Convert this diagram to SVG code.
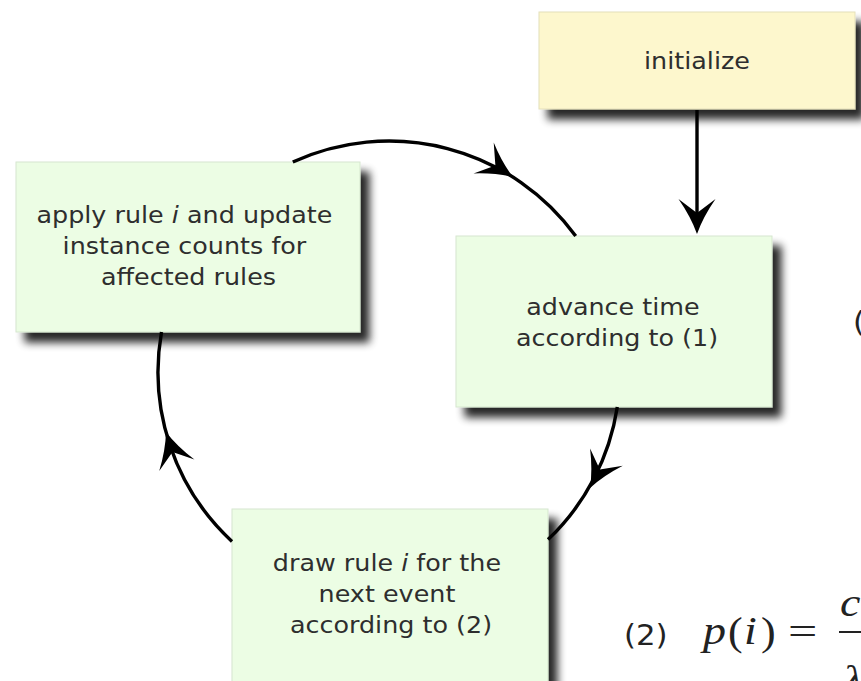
<svg xmlns="http://www.w3.org/2000/svg" xmlns:xlink="http://www.w3.org/1999/xlink" width="861" height="681" viewBox="0 0 861 681">
  <style>
    .box { stroke-width: 1; filter: url(#shadow); }
    .step { fill: #ecfde4; stroke: #d6e6cf; }
    .start { fill: #fdf7cd; stroke: #e4dfba; }
    .label { font-family: "DejaVu Sans", Verdana, sans-serif; font-size: 22.5px; fill: #2e2e2e; text-anchor: middle; }
    .edge { fill: none; stroke: #000000; stroke-width: 3.4; }
    .math { font-family: "Liberation Serif", "DejaVu Serif", serif; font-size: 40px; fill: #222222; }
    .tag { font-family: "DejaVu Sans", Verdana, sans-serif; font-size: 28px; fill: #222222; }
  </style>
  <defs>
    <filter id="shadow" x="-10%" y="-15%" width="135%" height="150%">
      <feGaussianBlur in="SourceAlpha" stdDeviation="4.5"/>
      <feOffset dx="9" dy="10"/>
      <feComponentTransfer>
        <feFuncA type="linear" slope="0.85"/>
      </feComponentTransfer>
      <feMerge>
        <feMergeNode/>
        <feMergeNode in="SourceGraphic"/>
      </feMerge>
    </filter>
    <!-- notched arrowhead, tip at the origin, pointing along +x -->
    <path id="head" d="M0,0 Q-17,-6 -35,-18.5 L-21,0 L-35,18.5 Q-17,6 0,0 Z" fill="#000000"/>
  </defs>

  <rect width="861" height="681" fill="#ffffff"/>

  <g id="node-initialize">
    <rect class="box start" x="539" y="12" width="316" height="97"/>
    <text class="label" transform="translate(697 0) scale(1.13 1)"><tspan x="0" y="69">initialize</tspan></text>
  </g>

  <g id="node-apply">
    <rect class="box step" x="16" y="162" width="344" height="170"/>
    <text class="label" transform="translate(188.5 0) scale(1.13 1)">
      <tspan x="0" y="223">apply rule <tspan font-style="italic">i</tspan> and update</tspan>
      <tspan x="0" y="254">instance counts for</tspan>
      <tspan x="0" y="285">affected rules</tspan>
    </text>
  </g>

  <g id="node-advance">
    <rect class="box step" x="456" y="236" width="316" height="171"/>
    <text class="label" transform="translate(617 0) scale(1.13 1)">
      <tspan x="0" y="315">advance time</tspan>
      <tspan x="0" y="346">according to (1)</tspan>
    </text>
  </g>

  <g id="node-draw">
    <rect class="box step" x="232" y="509" width="316" height="200"/>
    <text class="label" transform="translate(391 0) scale(1.13 1)">
      <tspan x="0" y="571">draw rule <tspan font-style="italic">i</tspan> for the</tspan>
      <tspan x="0" y="602">next event</tspan>
      <tspan x="0" y="633">according to (2)</tspan>
    </text>
  </g>

  <g id="connectors">
    <!-- initialize -> advance time -->
    <line class="edge" x1="697" y1="110" x2="697" y2="216"/>
    <use xlink:href="#head" transform="translate(697 234) rotate(90)"/>
    <!-- event loop drawn on one circle, centre (389,372), r = 231 -->
    <path class="edge" d="M292.8,162 A231,231 0 0 1 575.7,236"/>
    <use xlink:href="#head" transform="translate(513 177) rotate(33)"/>
    <path class="edge" d="M617.3,407 A231,231 0 0 1 548,539.6"/>
    <use xlink:href="#head" transform="translate(590 488) rotate(118)"/>
    <path class="edge" d="M232,541.4 A231,231 0 0 1 161.5,332"/>
    <use xlink:href="#head" transform="translate(166 432) rotate(252)"/>
  </g>

  <!-- equations beside the loop -->
  <g id="eq1">
    <text class="tag" transform="translate(853 332) scale(1.1 1)">(</text>
  </g>
  <g id="eq2">
    <text class="tag" transform="translate(624 645) scale(1.1 1)">(2)</text>
    <text class="math" transform="translate(703 644) scale(1.15 1)" font-style="italic">p</text>
    <text class="math" transform="translate(728 645) scale(1.1 1)">(</text>
    <text class="math" transform="translate(744 644) scale(1.15 1)" font-style="italic">i</text>
    <text class="math" transform="translate(761 645) scale(1.1 1)">)</text>
    <text class="math" transform="translate(788 645) scale(1.3 1)">=</text>
    <line x1="839" y1="632" x2="861" y2="632" stroke="#222222" stroke-width="2"/>
    <text class="math" transform="translate(840 616) scale(1.15 1)" font-style="italic">c</text>
    <text class="math" transform="translate(843 693) scale(1.15 1)" font-style="italic">λ</text>
  </g>
</svg>
